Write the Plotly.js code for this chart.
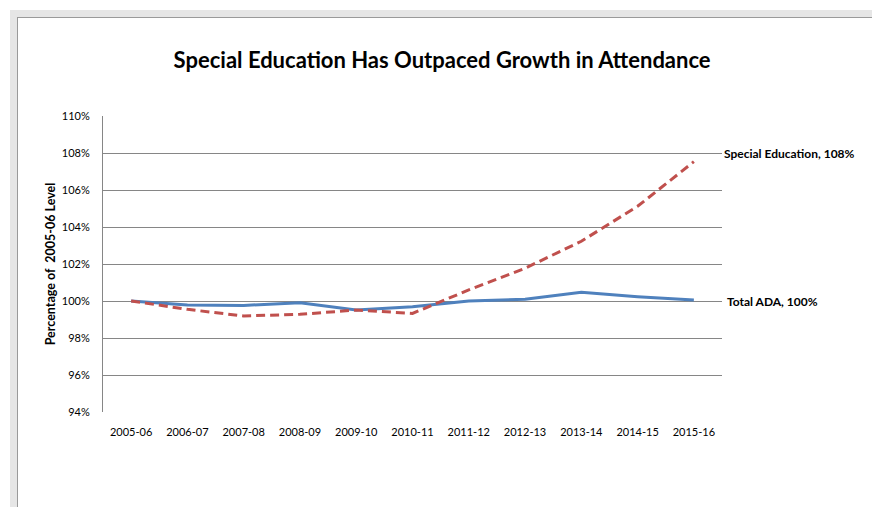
<!DOCTYPE html>
<html>
<head>
<meta charset="utf-8">
<script src="https://cdn.plot.ly/plotly-3.0.1.min.js"></script>
<style>
html,body{margin:0;padding:0;background:#fff;}
#chart{width:872px;height:507px;}
</style>
</head>
<body>
<div id="chart"></div>
<script>
var years = ["2005-06","2006-07","2007-08","2008-09","2009-10","2010-11","2011-12","2012-13","2013-14","2014-15","2015-16"];
var totalADA = [100.0, 99.78, 99.76, 99.9, 99.51, 99.69, 100.0, 100.09, 100.47, 100.23, 100.05];
var specialEd = [100.0, 99.55, 99.19, 99.28, 99.51, 99.33, 100.6, 101.77, 103.23, 105.12, 107.53];
var yTickVals = [94, 96, 98, 100, 102, 104, 106, 108, 110];
var yTickText = ["94%","96%","98%","100%","102%","104%","106%","108%","110%"];
var seriesLabels = ["Total ADA, 100%", "Special Education, 108%"];
var labelLevels = [100, 108];

var FONT = "Lato, 'Open Sans', Arial, sans-serif";

var traces = [
  {x: years, y: totalADA, type: 'scatter', mode: 'lines', name: 'Total ADA',
   line: {color: '#4f81bd', width: 3}, hoverinfo: 'skip'},
  {x: years, y: specialEd, type: 'scatter', mode: 'lines', name: 'Special Education',
   line: {color: '#c0504d', width: 3, dash: '9px,5px'}, hoverinfo: 'skip'}
];

var layout = {
  width: 872, height: 507,
  margin: {l: 103, r: 150, t: 116, b: 95},
  paper_bgcolor: '#ffffff', plot_bgcolor: '#ffffff',
  showlegend: false,
  title: {text: '<b>Special Education Has Outpaced Growth in Attendance</b>',
          font: {family: FONT, size: 22, color: '#000'},
          x: 0.507, xanchor: 'center', y: 0.882, yanchor: 'middle'},
  xaxis: {type: 'category', showgrid: false, zeroline: false,
          showline: false, ticks: '', tickfont: {family: FONT, size: 11, color: '#000'},
          ticklabelstandoff: 12,
          range: [-0.5, 10.5], fixedrange: true},
  yaxis: {range: [94, 110], tickvals: yTickVals, ticktext: yTickText,
          showgrid: true, gridcolor: '#868686', gridwidth: 1, zeroline: false,
          showline: true, linecolor: '#868686', linewidth: 1, ticks: '',
          tickfont: {family: FONT, size: 11, color: '#000'}, ticklabelstandoff: 10,
          title: {text: '<b>Percentage of  2005-06 Level</b>', font: {family: FONT, size: 12.5, color: '#000'}, standoff: 3},
          fixedrange: true},
  annotations: [
    {xref: 'paper', yref: 'y', x: 1.0, y: labelLevels[1], xanchor: 'left', yanchor: 'middle',
     text: '<b>' + seriesLabels[1] + '</b>', showarrow: false, xshift: 0,
     font: {family: FONT, size: 12, color: '#000'}},
    {xref: 'paper', yref: 'y', x: 1.0, y: labelLevels[0], xanchor: 'left', yanchor: 'middle',
     text: '<b>' + seriesLabels[0] + '</b>', showarrow: false, xshift: 3,
     font: {family: FONT, size: 12, color: '#000'}}
  ],
  shapes: [
    {type: 'rect', xref: 'paper', yref: 'paper', layer: 'below',
     x0: (10-103)/619, x1: (880-103)/619, y0: (412-10)/296, y1: (412-17)/296,
     fillcolor: '#e6e6e6', line: {width: 0}},
    {type: 'rect', xref: 'paper', yref: 'paper', layer: 'below',
     x0: (10-103)/619, x1: (17-103)/619, y0: (412-10)/296, y1: (412-515)/296,
     fillcolor: '#e6e6e6', line: {width: 0}},
    {type: 'line', xref: 'paper', yref: 'paper', layer: 'below',
     x0: (17-103)/619, x1: (880-103)/619, y0: (412-17.5)/296, y1: (412-17.5)/296,
     line: {color: '#9a9a9a', width: 1}},
    {type: 'line', xref: 'paper', yref: 'paper', layer: 'below',
     x0: (17.5-103)/619, x1: (17.5-103)/619, y0: (412-17)/296, y1: (412-515)/296,
     line: {color: '#9a9a9a', width: 1}}
  ]
};

Plotly.newPlot('chart', traces, layout, {staticPlot: true, displayModeBar: false});
</script>
</body>
</html>
